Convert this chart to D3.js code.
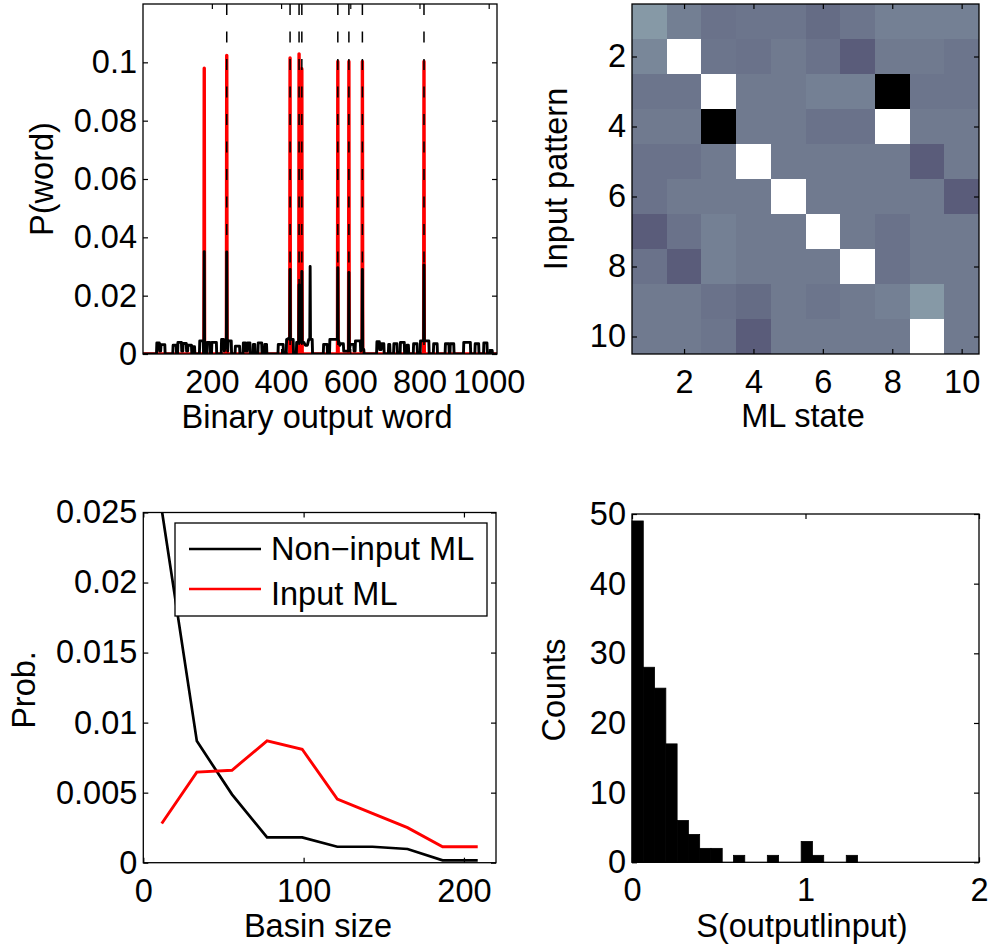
<!DOCTYPE html>
<html><head><meta charset="utf-8">
<script src="https://cdn.jsdelivr.net/npm/d3@7"></script>
<style>
html,body{margin:0;padding:0;background:#fff}
svg text{font-family:"Liberation Sans",Arial,Helvetica,sans-serif}
</style>
</head><body>
<svg id="fig" width="989" height="946"></svg>
<script>
// ---------- Panel A: word distribution ----------
const wordTicks = [200, 400, 600, 800, 1000];
const pWordTicks = [0, 0.02, 0.04, 0.06, 0.08, 0.1];
// vertices (word, probability) of the model trace (red)
const redTrace = [[1,0],[177,0],[178,0.098],[179,0],[242,0],[243,0.1024],[244,0],[425,0],[426,0.1015],[427,0],
  [451,0],[452,0.1029],[453,0],[459,0],[460,0.0978],[461,0],[563,0],[564,0.1003],[565,0],[595,0],[596,0.1003],[597,0],
  [634,0],[635,0.1003],[636,0],[812,0],[813,0.1003],[814,0],[1024,0]];
// vertices (word, probability) of the measured trace (black)
const blackTrace = [[1,0],[40,0],[41,0.0038],[48,0.0038],[49,0.001],[52,0.001],[53,0.0032],[64,0.0032],[65,0],
  [87,0],[88,0.003],[97,0.003],[98,0],[101,0],[102,0.004],[112,0.004],[113,0.001],[116,0.001],[117,0.0036],[126,0.0036],
  [127,0.001],[130,0.001],[131,0.003],[141,0.003],[142,0],[145,0],[146,0.0025],[150,0.0025],[151,0],
  [164,0],[165,0.0045],[175,0.0045],[176,0],[177,0],[178,0.0351],[179,0],[185,0],[186,0.004],[194,0.004],[195,0],
  [199,0],[200,0.004],[213,0.004],[214,0],[227,0],[228,0.005],[234,0.005],[236,0.001],[242,0.005],[243,0.035],[244,0.005],
  [246,0.001],[247,0.0045],[256,0.0045],[257,0],[267,0],[268,0.0027],[280,0.0027],[281,0],
  [290,0],[291,0.0038],[297,0.0038],[298,0.001],[302,0.001],[303,0.0038],[310,0.0038],[311,0],
  [319,0],[320,0.0033],[324,0.0033],[325,0],[333,0],[334,0.0038],[344,0.0038],[345,0],[352,0],[353,0.0033],[358,0.0033],[359,0],
  [391,0],[392,0.0033],[406,0.0033],[407,0],[415,0],[416,0.005],[424,0.0055],[425,0.005],[426,0.029],[427,0.005],[435,0.005],[436,0],
  [444,0],[445,0.004],[451,0.004],[452,0.0237],[453,0.004],[459,0.004],[460,0.0283],[461,0.004],[466,0.004],[470,0.003],
  [476,0.003],[480,0.005],[483,0.005],[484,0.030],[485,0.005],[490,0.005],[491,0],
  [522,0],[523,0.0033],[533,0.0033],[534,0],[540,0],[541,0.005],[563,0.005],[564,0.0296],[565,0.005],[570,0.003],
  [571,0.0035],[580,0.0035],[581,0.001],[595,0.001],[596,0.028],[597,0.001],[600,0.0033],[610,0.0033],[611,0.001],
  [614,0.001],[615,0.0045],[629,0.0045],[630,0.001],[634,0.003],[635,0.029],[636,0.002],[639,0.0015],[640,0],
  [676,0],[677,0.0042],[684,0.0042],[685,0.0015],[689,0.0015],[690,0.0035],[697,0.0035],[698,0],
  [710,0],[711,0.0033],[714,0.0033],[715,0],[725,0],[726,0.0035],[735,0.0035],[736,0],[744,0],[745,0.004],[756,0.004],[757,0],
  [763,0],[764,0.003],[768,0.003],[769,0],[782,0],[783,0.0035],[793,0.0035],[794,0],
  [802,0],[803,0.0045],[812,0.0045],[813,0.0305],[814,0.0045],[827,0.0045],[828,0],
  [840,0],[841,0.0035],[851,0.0035],[852,0],[874,0],[875,0.0035],[885,0.0035],[886,0],[888,0],[889,0.0035],[899,0.0035],[900,0],
  [927,0],[928,0.004],[947,0.004],[948,0],[960,0],[961,0.0035],[971,0.0035],[972,0],[985,0],[986,0.0038],[995,0.0038],[996,0],
  [1004,0],[1005,0.0012],[1010,0.0012],[1011,0],[1024,0]];
// words of the stored input patterns (dashed markers)
const inputWords = [243, 426, 452, 460, 564, 596, 635, 813];

// ---------- Panel B: input pattern vs ML state ----------
const stateTicks = [2, 4, 6, 8, 10];
const overlap = [
  [0.600,0.515,0.475,0.484,0.484,0.453,0.484,0.520,0.520,0.520],
  [0.543,1.000,0.484,0.475,0.500,0.475,0.403,0.500,0.500,0.484],
  [0.484,0.484,1.000,0.500,0.500,0.520,0.520,0.000,0.484,0.484],
  [0.500,0.500,0.000,0.500,0.500,0.475,0.475,1.000,0.500,0.500],
  [0.475,0.475,0.500,1.000,0.500,0.500,0.500,0.500,0.403,0.500],
  [0.475,0.500,0.500,0.500,1.000,0.500,0.500,0.500,0.500,0.403],
  [0.403,0.475,0.520,0.500,0.500,1.000,0.500,0.475,0.500,0.500],
  [0.475,0.403,0.520,0.500,0.500,0.500,1.000,0.475,0.500,0.500],
  [0.500,0.500,0.475,0.453,0.500,0.484,0.500,0.520,0.600,0.500],
  [0.500,0.500,0.484,0.403,0.500,0.500,0.500,0.500,1.000,0.500]
];

// ---------- Panel C: basin size distribution ----------
const basinSize = [11.5, 33.4, 55.3, 77.2, 99.1, 121.0, 142.9, 164.8, 186.7, 208.6];
const probNonInput = [0.0252, 0.00868, 0.00488, 0.00181, 0.00181, 0.00114, 0.00114, 0.00098, 0.00017, 0.00017];
const probInput = [0.0028, 0.00647, 0.0066, 0.0087, 0.0081, 0.00454, 0.00352, 0.0025, 0.00114, 0.00114];
const basinTicks = [0, 100, 200];
const probTicks = [0, 0.005, 0.01, 0.015, 0.02, 0.025];

// ---------- Panel D: conditional entropy histogram ----------
const entropyCounts = [49, 28, 25, 17, 6, 4, 2, 2, 0, 1, 0, 0, 1, 0, 0, 3, 1, 0, 0, 1];
const entropyBinWidth = 0.065;
const entropyTicks = [0, 1, 2];
const countTicks = [0, 10, 20, 30, 40, 50];

const FS = 32.5;
const svg = d3.select('#fig');
svg.append('rect').attr('width', 989).attr('height', 946).attr('fill', '#fff');

const fmt = d => String(d);

// box with inward ticks on all four sides, labels on bottom and left
function frame(x, y, xt, yt, fx, fy) {
  const g = svg.append('g');
  const [xa, xb] = x.range();
  const ya = Math.max(...y.range()), yb = Math.min(...y.range());
  const style = s => {
    s.select('.domain').remove();
    s.selectAll('.tick line').attr('stroke', '#000').attr('stroke-width', 1.2);
    s.selectAll('text').attr('font-size', FS).attr('font-family', null).attr('fill', '#000');
  };
  g.append('g').attr('transform', `translate(0,${ya})`)
    .call(d3.axisBottom(x).tickValues(xt).tickFormat(fx).tickSizeInner(-5).tickSizeOuter(0).tickPadding(16)).call(style);
  g.append('g').attr('transform', `translate(0,${yb})`)
    .call(d3.axisTop(x).tickValues(xt).tickFormat('').tickSizeInner(-5).tickSizeOuter(0)).call(style);
  g.append('g').attr('transform', `translate(${xa},0)`)
    .call(d3.axisLeft(y).tickValues(yt).tickFormat(fy).tickSizeInner(-5).tickSizeOuter(0).tickPadding(6)).call(style);
  g.append('g').attr('transform', `translate(${xb},0)`)
    .call(d3.axisRight(y).tickValues(yt).tickFormat('').tickSizeInner(-5).tickSizeOuter(0)).call(style);
  g.append('rect').attr('x', xa).attr('y', yb).attr('width', xb - xa).attr('height', ya - yb)
    .attr('fill', 'none').attr('stroke', '#000').attr('stroke-width', 1.3);
}

function label(text, x, y, rotate) {
  const t = svg.append('text').attr('font-size', FS).attr('text-anchor', 'middle').attr('fill', '#000').text(text);
  if (rotate) t.attr('transform', `translate(${x},${y}) rotate(-90)`);
  else t.attr('x', x).attr('y', y);
}

function clipFor(id, x, y) {
  const [xa, xb] = x.range();
  const ya = Math.max(...y.range()), yb = Math.min(...y.range());
  svg.append('clipPath').attr('id', id).append('rect')
    .attr('x', xa).attr('y', yb).attr('width', xb - xa).attr('height', ya - yb);
  return `url(#${id})`;
}

// ===== Panel A =====
{
  const x = d3.scaleLinear().domain([1, 1024]).range([143, 497]);
  const y = d3.scaleLinear().domain([0, 0.12]).range([354, 4]);
  const clip = clipFor('clipA', x, y);
  const line = d3.line().x(d => x(d[0])).y(d => y(d[1]));
  const g = svg.append('g').attr('clip-path', clip);
  g.append('path').attr('d', line(redTrace)).attr('fill', 'none').attr('stroke', '#ff0000')
    .attr('stroke-width', 3.4).attr('stroke-linejoin', 'round');
  g.append('path').attr('d', line(blackTrace)).attr('fill', 'none').attr('stroke', '#000')
    .attr('stroke-width', 2.9).attr('stroke-linejoin', 'round');
  g.selectAll('line.marker').data(inputWords).join('line').attr('class', 'marker')
    .attr('x1', d => x(d)).attr('x2', d => x(d)).attr('y1', y(0.12)).attr('y2', y(0))
    .attr('stroke', '#000').attr('stroke-width', 1.5).attr('stroke-dasharray', '11,16.5');
  frame(x, y, wordTicks, pWordTicks, fmt, fmt);
  label('Binary output word', 317, 428);
  label('P(word)', 53, 179, true);
}

// ===== Panel B =====
{
  const x = d3.scaleLinear().domain([0.5, 10.5]).range([632, 979]);
  const y = d3.scaleLinear().domain([0.5, 10.5]).range([4, 354]);
  // MATLAB-style bone colormap
  const bone = t => {
    const cl = v => Math.max(0, Math.min(1, v));
    const hr = cl(t / 0.375), hg = cl((t - 0.375) / 0.375), hb = cl((t - 0.75) / 0.25);
    return d3.rgb(255 * (7 * t + hb) / 8, 255 * (7 * t + hg) / 8, 255 * (7 * t + hr) / 8);
  };
  const cells = [];
  overlap.forEach((row, i) => row.forEach((v, j) => cells.push({ r: i + 1, c: j + 1, v })));
  svg.append('g').selectAll('rect').data(cells).join('rect')
    .attr('x', d => x(d.c - 0.5)).attr('y', d => y(d.r - 0.5))
    .attr('width', d => x(d.c + 0.5) - x(d.c - 0.5) + 0.3).attr('height', d => y(d.r + 0.5) - y(d.r - 0.5) + 0.3)
    .attr('fill', d => bone(d.v)).attr('shape-rendering', 'crispEdges');
  frame(x, y, stateTicks, stateTicks, fmt, fmt);
  label('ML state', 803, 427);
  label('Input pattern', 567, 179, true);
}

// ===== Panel C =====
{
  const x = d3.scaleLinear().domain([0, 220]).range([143.3, 496]);
  const y = d3.scaleLinear().domain([0, 0.025]).range([862.7, 512.5]);
  const clip = clipFor('clipC', x, y);
  const line = d3.line().x((d, i) => x(basinSize[i])).y(d => y(d));
  const g = svg.append('g').attr('clip-path', clip);
  g.append('path').attr('d', line(probNonInput)).attr('fill', 'none').attr('stroke', '#000').attr('stroke-width', 2.7);
  g.append('path').attr('d', line(probInput)).attr('fill', 'none').attr('stroke', '#ff0000').attr('stroke-width', 2.9);
  frame(x, y, basinTicks, probTicks, fmt, fmt);
  // legend
  const lg = svg.append('g');
  lg.append('rect').attr('x', 175).attr('y', 523).attr('width', 312).attr('height', 93)
    .attr('fill', '#fff').attr('stroke', '#000').attr('stroke-width', 1.3);
  const entries = [['Non\u2212input ML', '#000', 549, 560], ['Input ML', '#ff0000', 589, 605]];
  entries.forEach(([t, c, ly, ty]) => {
    lg.append('line').attr('x1', 189).attr('x2', 261).attr('y1', ly).attr('y2', ly)
      .attr('stroke', c).attr('stroke-width', 2.7);
    lg.append('text').attr('x', 271).attr('y', ty).attr('font-size', FS).attr('fill', '#000').text(t);
  });
  label('Basin size', 318, 937);
  label('Prob.', 35, 690, true);
}

// ===== Panel D =====
{
  const x = d3.scaleLinear().domain([0, 2]).range([632, 979]);
  const y = d3.scaleLinear().domain([0, 50]).range([862.3, 514]);
  const bins = entropyCounts.map((n, i) => ({ x0: i * entropyBinWidth, x1: (i + 1) * entropyBinWidth, n }))
    .filter(b => b.n > 0);
  svg.append('g').selectAll('rect').data(bins).join('rect')
    .attr('x', d => x(d.x0)).attr('y', d => y(d.n))
    .attr('width', d => x(d.x1) - x(d.x0)).attr('height', d => y(0) - y(d.n))
    .attr('fill', '#000').attr('stroke', '#000').attr('stroke-width', 0.8);
  frame(x, y, entropyTicks, countTicks, fmt, fmt);
  label('S(outputlinput)', 802, 937);
  label('Counts', 565, 690, true);
}
</script>
</body></html>
